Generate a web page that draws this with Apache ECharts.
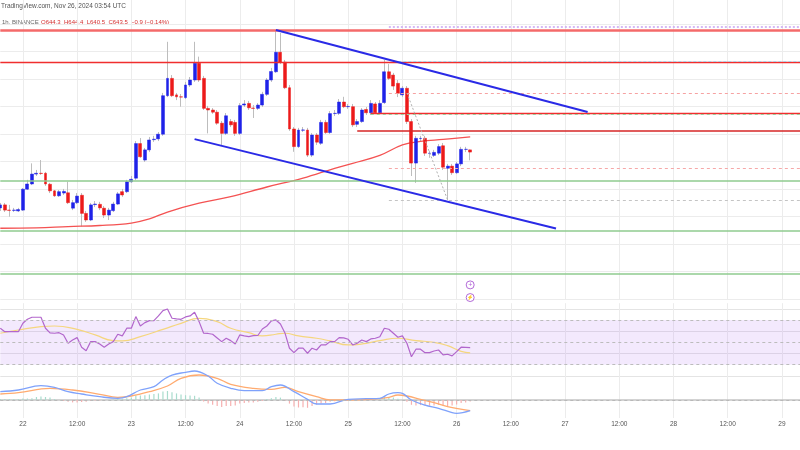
<!DOCTYPE html>
<html><head><meta charset="utf-8">
<script src="https://cdn.jsdelivr.net/npm/echarts@6/dist/echarts.min.js"></script>
<style>html,body{margin:0;padding:0;background:#fff}#c{width:800px;height:450px}</style>
</head><body><div id="c"></div>
<script>
// hours relative to Nov 22 00:00 UTC (1h candles)
const hourStart = -5, hourEnd = 172;
const tickHours = [0,12,24,36,48,60,72,84,96,108,120,132,144,156,168];
const tickLabels = ['22','12:00','23','12:00','24','12:00','25','12:00','26','12:00','27','12:00','28','12:00','29'];

// [open, close, low, high] for hours -5 .. 99
const candles = [
[623.2,624.3,622.1,625.0],[624.3,622.4,621.7,625.0],[622.4,622.3,620.0,624.3],[622.3,622.4,621.7,623.2],[622.1,622.6,621.7,623.2],
[622.4,630.0,622.1,630.4],[630.0,631.9,629.7,633.4],[631.9,635.5,631.5,639.4],[635.5,635.8,634.8,637.0],[635.8,635.7,635.2,640.6],
[635.8,631.9,631.2,636.3],[631.8,629.4,628.6,632.3],[629.4,627.6,627.2,629.7],[627.6,629.1,627.2,629.7],[628.6,629.2,627.9,630.1],
[628.7,625.1,624.6,632.7],[623.1,625.1,622.4,626.1],[625.1,627.5,624.6,628.6],[627.8,621.2,616.4,628.6],[621.2,618.8,618.1,622.1],
[618.8,624.3,618.4,625.0],[624.4,624.6,623.5,625.7],[624.5,623.2,622.4,625.4],[623.1,620.6,619.5,623.9],[620.6,622.4,618.8,623.2],
[622.2,624.6,621.7,625.4],[624.6,628.3,624.3,629.0],[629.1,627.9,627.2,630.1],[629.1,632.7,628.6,633.4],[632.7,633.6,632.3,634.8],
[634.0,646.6,633.4,647.5],[646.6,641.8,641.4,648.6],[640.6,644.3,639.9,645.0],[644.3,647.9,643.5,649.0],[648.0,648.2,647.2,649.4],
[648.3,650.0,647.5,650.8],[650.0,664.0,649.4,665.0],[664.0,670.3,663.5,683.6],[670.3,664.0,663.5,671.5],[664.3,663.6,662.4,665.0],
[663.6,663.5,660.0,664.6],[663.3,667.9,662.8,669.0],[667.9,669.7,667.2,670.8],[669.7,675.8,669.0,683.6],[675.8,669.7,669.0,678.2],
[670.3,659.4,658.8,671.2],[659.4,658.8,650.3,660.3],[658.8,658.0,657.4,659.5],[658.0,654.0,653.4,658.8],[654.0,650.3,646.1,654.8],
[650.3,656.7,649.7,657.7],[654.6,653.4,652.6,655.5],[654.3,650.3,649.4,655.2],[650.3,660.4,649.7,661.3],[660.6,661.0,659.9,662.4],
[661.2,659.6,658.8,662.1],[659.5,659.4,655.9,660.6],[659.4,660.6,658.8,661.3],[660.6,664.5,659.9,665.4],[664.5,669.7,663.9,670.4],
[669.7,672.8,669.0,674.1],[672.7,679.8,672.3,687.9],[679.8,676.2,675.5,686.8],[676.2,666.9,666.4,677.0],[666.9,651.9,651.2,667.9],
[651.9,645.5,643.6,652.6],[645.5,651.5,645.0,652.3],[651.45,651.55,650.8,652.6],[651.5,642.4,641.7,652.3],[642.4,649.7,641.7,650.4],
[649.7,647.1,646.1,650.4],[646.7,654.3,646.1,655.2],[654.3,650.6,650.1,655.2],[650.6,657.5,650.1,658.4],[657.5,657.6,656.6,658.8],
[657.6,661.7,657.0,662.8],[661.7,660.0,659.5,663.6],[660.0,660.1,659.2,661.0],[660.0,653.4,652.6,661.0],[653.6,654.6,652.6,655.5],
[654.6,658.8,654.1,659.5],[659.0,657.8,657.0,659.9],[657.8,661.2,657.0,662.4],[661.0,657.8,657.4,661.7],[657.8,661.2,657.4,662.4],
[661.5,672.7,661.0,677.0],[672.7,670.3,669.7,675.5],[671.5,667.5,666.1,672.3],[668.5,664.9,663.5,669.7],[664.3,666.7,663.5,667.5],
[666.7,654.6,653.7,667.5],[654.6,639.5,634.8,655.5],[639.5,648.5,632.3,649.4],[648.4,648.5,647.4,649.4],[648.5,643.1,642.1,649.4],
[643.0,643.1,641.4,643.9],[642.3,643.4,641.7,644.3],[643.1,645.5,642.4,646.4],[645.8,638.0,637.0,646.8],[637.6,638.4,626.1,639.2],
[638.4,636.0,635.2,639.2],[636.0,639.2,635.5,639.9],[639.2,644.5,638.4,645.4],[644.47,644.51,643.5,645.4],[644.3,643.5,640.5,644.4]
];

// moving average (read at sampled hours)
const maHours  = [-5,3,10,17,24,28,32,39,46,54,62,69,73,79,84,88,93,99];
const maValues = [615.8,615.9,616.4,616.8,617.7,619.2,621.7,624.9,627.3,630.8,634.0,637.6,639.4,642.3,646.1,647.4,648.1,649.0];

// horizontal levels
const fullLevels = [687.7, 676.15, 633.0, 614.9, 599.2];
const partialLevels = [689.0, 676.7, 664.9, 657.6, 657.2, 651.3, 637.8, 626.1];
const partialStartHours = [81, 82, 81, 77, 77, 74, 81, 81];
// trend lines [hour, price]
const trendUpper = [[56, 687.9], [125, 658.1]];
const trendLower = [[38, 648.2], [118, 615.7]];
const dropPath = [[85, 665.0], [94, 626.1]];

// RSI hours -5..99
const rsiValues = [
62.6,59.5,59.5,59.5,59.5,67.0,70.6,72.4,72.4,72.4,62.6,58.4,58.1,58.6,56.6,49.1,52.1,54.2,45.6,42.5,
50.6,50.6,48.5,45.6,48.5,50.6,57.2,55.7,62.6,62.6,73.0,64.6,67.6,69.4,69.4,73.6,78.3,79.8,71.5,70.9,
70.6,72.7,73.6,76.9,68.5,58.1,57.9,57.2,53.9,50.6,53.6,51.5,48.5,56.6,55.7,55.0,55.9,56.1,61.9,64.6,
69.1,70.0,66.4,58.4,44.7,40.7,44.7,44.7,40.2,44.7,43.1,47.6,47.6,50.6,50.6,54.2,53.9,52.7,47.6,49.1,
52.1,50.6,53.0,53.6,55.0,62.6,61.7,58.1,54.5,55.7,49.1,37.1,43.8,43.8,40.7,40.7,42.2,43.1,38.7,39.3,
37.8,41.6,45.6,45.4,45.2
];
const rsiMaHours  = [-5,-1,4,7,12,16,20,22,26,31,35,39,43,46,50,53,56,58,61,65,68,72,76,79,83,87,91,94,97,99];
const rsiMaValues = [58.1,61.0,64.0,64.6,61.6,56.6,51.5,51.2,55.1,61.6,67.0,71.5,68.5,62.6,58.6,55.7,57.2,58.1,55.7,53.6,51.2,47.6,49.1,51.5,53.6,51.5,50.0,47.0,41.9,40.5];

// MACD
const macdHours  = [-5,-1,4,7,10,13,17,21,23,26,29,31,33,36,38,41,43,46,49,53,55,57,60,63,65,68,72,76,79,81,83,84,86,89,92,95,96,99];
const macdValues = [2.77,3.33,4.77,4.23,2.77,2.0,1.1,0.57,1.1,3.33,4.43,6.67,8.33,9.23,9.67,8.0,5.57,3.9,3.1,3.1,4.43,5.0,2.77,0.23,-1.33,-1.33,0.23,0.43,0.57,2.0,2.43,2.23,0,-1.67,-2.77,-4.23,-4.43,-3.57];
const signalHours  = [-5,-1,6,11,17,21,24,28,32,35,39,43,46,51,55,58,61,65,68,72,77,81,83,85,88,91,94,99];
const signalValues = [2.0,2.43,3.9,3.33,1.9,0.9,1.33,2.77,4.67,7.23,8.33,7.23,5.23,3.9,3.57,4.23,2.77,1.1,0,0,0.23,0.9,1.67,1.33,0.23,-0.9,-2.23,-3.57];
const histValues = [
0.3,0.3,0.3,0.3,0.3, 0.5,0.5,0.6, 1.0,1.2,1.0,0.8, 0.3,0.0,-0.3, -0.6,-0.8,-0.8,-0.7,-0.6,
-0.3,-0.2,-0.2,-0.1,0.1,0.2, 0.3,0.4,0.6,0.8, 1.6,1.5,1.6,1.8,2.0,2.2, 2.8,3.0,2.6,2.2,
1.8,1.6,1.5,1.4,0.8, -0.5,-1.2,-1.6,-2.0,-2.3,-2.0,-2.0,-1.8, -1.2,-1.0,-0.8,-0.8,-0.6,-0.3,
0.3,0.6,1.0,0.8, -0.3,-1.2,-2.2,-2.5,-2.4,-2.6,-2.0,-1.5, -1.2,-1.0,-0.6,-0.4,-0.2,0.0,0.1,
0.2,0.3,0.3,0.4,0.5,0.6,0.7,1.0,1.0,0.8, 0.4,0.0,-0.6,
-1.6,-1.8,-1.7,-1.8,-1.9,-1.8,-1.6,-1.9,-2.0,-1.8,-1.5,-1.0,-0.8,-0.5
];

// ---------- build ----------
const cats = [];
for (let h = hourStart; h <= hourEnd; h++) {
  const d = 22 + Math.floor(h / 24), hr = ((h % 24) + 24) % 24;
  cats.push(d + ' ' + String(hr).padStart(2, '0') + ':00');
}
const cat = h => cats[h - hourStart];
const isTick = i => tickHours.indexOf(i + hourStart) >= 0;
const sparse = (hours, vals) => { const a = cats.map(() => null); hours.forEach((h, i) => { a[h - hourStart] = vals[i]; }); return a; };

const bodies = candles.map(c => [c[0], c[1], Math.min(c[0], c[1]), Math.max(c[0], c[1])]);

const GRID = '#ececec';
const UP = '#1f22e8', DN = '#ec1a1a';

const fullStyles = [
  {color:'#f46a6a', width:2.5, type:'solid'}, {color:'#f02e2e', width:1.3, type:'solid'},
  {color:'#8fcb8f', width:1.6, type:'solid'}, {color:'#8fcb8f', width:1.6, type:'solid'}, {color:'#8fcb8f', width:1.6, type:'solid'}
];
const partialStyles = [
  {color:'#c8a2f2', width:1.5, type:[2,2]}, {color:'#a8d2ea', width:1.2, type:[3,2]},
  {color:'#f6a2a2', width:1, type:[3,3]}, {color:'#f02e2e', width:1.3, type:'solid'},
  {color:'#9acc9a', width:1, type:[3,3]}, {color:'#d62626', width:1.5, type:'solid'},
  {color:'#f6a8a8', width:1, type:[3,3]}, {color:'#c4c4c4', width:1, type:[3,3]}
];
const mlData = [];
fullLevels.forEach((p, i) => mlData.push({yAxis: p, lineStyle: fullStyles[i]}));
partialLevels.forEach((p, i) => mlData.push([
  {coord:[cat(partialStartHours[i]), p], lineStyle: partialStyles[i]},
  {coord:[cat(hourEnd), p]}
]));
[trendUpper, trendLower].forEach(t => mlData.push([
  {coord:[cat(t[0][0]), t[0][1]], lineStyle:{color:'#2a2ae6', width:2, type:'solid'}},
  {coord:[cat(t[1][0]), t[1][1]]}
]));
mlData.push([
  {coord:[cat(dropPath[0][0]), dropPath[0][1]], lineStyle:{color:'#b0b0b0', width:1, type:[2,2]}},
  {coord:[cat(dropPath[1][0]), dropPath[1][1]]}
]);

function xAxis(gi, bottom) {
  return {
    type:'category', gridIndex:gi, data:cats, boundaryGap:false,
    axisTick:{show:false},
    axisLine:{show:bottom, lineStyle:{color:'#c4c4c4', width:1.5}},
    axisLabel:{show:bottom, interval:(i)=>isTick(i), margin:3,
      formatter:(v,i)=>{const k=tickHours.indexOf(i+hourStart); return k>=0?tickLabels[k]:'';},
      color:'#555', fontSize:6.5, fontFamily:'Liberation Sans'},
    splitLine:{show:true, interval:(i)=>isTick(i), lineStyle:{color:GRID, width:1}}
  };
}

const option = {
  animation:false,
  backgroundColor:'#fff',
  grid:[
    {left:0.3, right:-2.6, top:0, height:299.2},
    {left:0.3, right:-2.6, top:303.2, height:72.6},
    {left:0.3, right:-2.6, top:367, height:51}
  ],
  xAxis:[xAxis(0,false), xAxis(1,false), xAxis(2,true)],
  yAxis:[
    {gridIndex:0, type:'value', min:590, max:698.8, interval:10, axisLabel:{show:false}, axisLine:{show:false}, axisTick:{show:false},
     splitLine:{show:true, showMaxLine:false, lineStyle:{color:GRID}}},
    {gridIndex:1, type:'value', min:20, max:85, interval:20, axisLabel:{show:false}, axisLine:{show:false}, axisTick:{show:false},
     splitLine:{show:true, showMaxLine:false, lineStyle:{color:'#e4e4e4'}}},
    {gridIndex:2, type:'value', min:-6, max:11, axisLabel:{show:false}, axisLine:{show:false}, axisTick:{show:false}, splitLine:{show:false}}
  ],
  graphic:[
    {type:'text', left:1, top:3, style:{text:'TradingView.com, Nov 26, 2024 03:54 UTC', fill:'#555', font:'6.5px "Liberation Sans"'}},
    {type:'text', left:2, top:19, style:{text:'1h, BINANCE', fill:'#666', font:'6px "Liberation Sans"'}},
    {type:'text', left:41, top:19, style:{text:'O644.3  H644.4  L640.5  C643.5  \u22120.9 (\u22120.14%)', fill:'#d43030', font:'6px "Liberation Sans"'}}
  ],
  series:[
    {type:'candlestick', name:'wick', xAxisIndex:0, yAxisIndex:0, data:candles, barWidth:1, z:2,
     itemStyle:{color:'#bdbdbd', color0:'#bdbdbd', borderColor:'#bdbdbd', borderColor0:'#bdbdbd', borderWidth:1}},
    {type:'line', name:'ma', xAxisIndex:0, yAxisIndex:0, data:sparse(maHours, maValues), connectNulls:true, smooth:0.4,
     symbol:'none', lineStyle:{color:'#f45252', width:1.3}, z:3},
    {type:'candlestick', name:'body', xAxisIndex:0, yAxisIndex:0, data:bodies, barWidth:3.4, z:4,
     itemStyle:{color:UP, color0:DN, borderColor:UP, borderColor0:DN, borderWidth:0.5},
     markLine:{silent:true, symbol:['none','none'], label:{show:false}, data:mlData, z:5},
     markPoint:{silent:true, data:[
       {coord:[cat(99), 595.2], symbol:'circle', symbolSize:8, itemStyle:{color:'#fff', borderColor:'#b36ad8', borderWidth:1},
        label:{show:true, formatter:'+', color:'#b36ad8', fontSize:7, offset:[0,0]}},
       {coord:[cat(99), 590.6], symbol:'circle', symbolSize:8, itemStyle:{color:'#fff', borderColor:'#b36ad8', borderWidth:1},
        label:{show:true, formatter:'\u26A1', color:'#b36ad8', fontSize:5}}
     ]}},
    {type:'line', name:'rsi', xAxisIndex:1, yAxisIndex:1, data:rsiValues, symbol:'none',
     lineStyle:{color:'#b266cc', width:1.2}, z:4,
     markArea:{silent:true, itemStyle:{color:'rgba(180,120,240,0.16)'}, data:[[{yAxis:30},{yAxis:70}]]},
     markLine:{silent:true, symbol:['none','none'], label:{show:false},
       lineStyle:{color:'#bcbcbc', type:[3,3], width:1}, data:[{yAxis:70},{yAxis:50},{yAxis:30}]}},
    {type:'line', name:'rsiMa', xAxisIndex:1, yAxisIndex:1, data:sparse(rsiMaHours, rsiMaValues), connectNulls:true, smooth:0.5,
     symbol:'none', lineStyle:{color:'#f5d67e', width:1.2}, z:3},
    {type:'bar', name:'hist', xAxisIndex:2, yAxisIndex:2, data:histValues, barWidth:1.2,
     itemStyle:{color:(p)=>p.value>=0?'#a9dccd':'#f6b0b0'},
     markLine:{silent:true, symbol:['none','none'], label:{show:false},
       lineStyle:{color:'#b8b8b8', type:[3,3], width:1}, data:[{yAxis:0}]}},
    {type:'line', name:'macd', xAxisIndex:2, yAxisIndex:2, data:sparse(macdHours, macdValues), connectNulls:true, smooth:0.4,
     symbol:'none', lineStyle:{color:'#7fa2fb', width:1.3}, z:4},
    {type:'line', name:'signal', xAxisIndex:2, yAxisIndex:2, data:sparse(signalHours, signalValues), connectNulls:true, smooth:0.4,
     symbol:'none', lineStyle:{color:'#ffab70', width:1.3}, z:3}
  ]
};
const chart = echarts.init(document.getElementById('c'), null, {renderer:'canvas'});
chart.setOption(option);
</script></body></html>
